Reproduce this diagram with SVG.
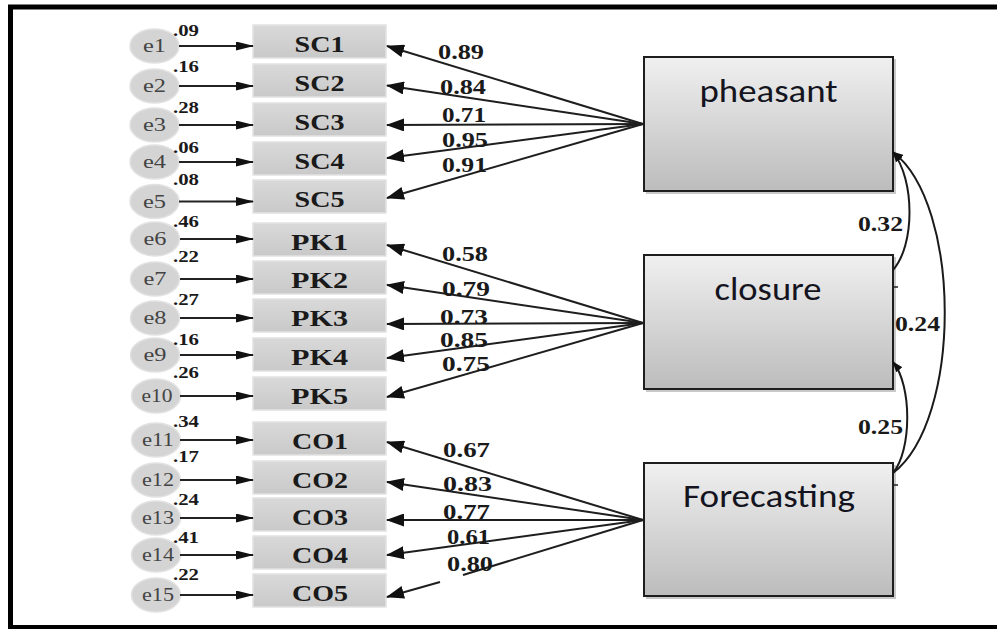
<svg xmlns="http://www.w3.org/2000/svg" width="997" height="629" viewBox="0 0 997 629">
  <defs>
    <linearGradient id="latentFill" x1="0" y1="0" x2="0" y2="1">
      <stop offset="0" stop-color="#f0f0f0"/>
      <stop offset="1" stop-color="#bcbcbc"/>
    </linearGradient>
    <linearGradient id="itemFill" x1="0" y1="0" x2="0" y2="1">
      <stop offset="0" stop-color="#d9d9d9"/>
      <stop offset="1" stop-color="#c9c9c9"/>
    </linearGradient>
    <!-- large head for factor loadings -->
    <marker id="loadHead" markerUnits="userSpaceOnUse" viewBox="0 0 18 13" markerWidth="18" markerHeight="13" refX="17" refY="6.5" orient="auto">
      <path d="M0,0 L18,6.5 L0,13 z" fill="#111"/>
    </marker>
    <!-- slender head for error terms -->
    <marker id="errHead" markerUnits="userSpaceOnUse" viewBox="0 0 18 9" markerWidth="18" markerHeight="9" refX="17" refY="4.5" orient="auto">
      <path d="M0,0 L18,4.5 L0,9 z" fill="#111"/>
    </marker>
    <!-- small head for covariance arcs -->
    <marker id="covHead" markerUnits="userSpaceOnUse" viewBox="0 0 11 8" markerWidth="11" markerHeight="8" refX="10" refY="4" orient="auto-start-reverse">
      <path d="M0,0 L11,4 L0,8 z" fill="#111"/>
    </marker>
    <style>
      .item rect { fill: url(#itemFill); stroke: #e2e2e2; stroke-width: 1.5; }
      .item text { font-family: "Liberation Serif", "Times New Roman", serif; font-weight: bold; font-size: 24px; fill: #1a1a1a; text-anchor: middle; }
      .err ellipse { fill: #d4d4d4; stroke: #e2e2e2; stroke-width: 1.5; }
      .err text { font-family: "Liberation Serif", "Times New Roman", serif; font-size: 19px; fill: #444; text-anchor: middle; }
      .latent .shade { fill: #9a9a9a; opacity: 0.55; }
      .latent .box { fill: url(#latentFill); stroke: #1e1e1e; stroke-width: 2; }
      .latent text { font-family: "Carlito", "Lato", "Liberation Sans", sans-serif; font-size: 32px; fill: #141420; text-anchor: middle; }
      .wt { font-family: "Liberation Serif", "Times New Roman", serif; font-weight: bold; font-size: 16px; fill: #1a1a1a; }
      .ld { font-family: "Liberation Serif", "Times New Roman", serif; font-weight: bold; font-size: 20px; fill: #1a1a1a; }
      .load { stroke: #1e1e1e; stroke-width: 2; fill: none; marker-end: url(#loadHead); }
      .earr { stroke: #222; stroke-width: 2; fill: none; marker-end: url(#errHead); }
      .cov { stroke: #1a1a1a; stroke-width: 2; fill: none; }
    </style>
  </defs>

  <rect width="997" height="629" fill="#ffffff"/>
  <!-- outer frame (open on the right) -->
  <path d="M1005,7 H10.5 V627.5 H1005" fill="none" stroke="#000" stroke-width="5"/>

  <!-- error terms -->
  <g id="e1" class="err"><ellipse cx="154.5" cy="46" rx="24.5" ry="17"/><text x="154.5" y="52" textLength="23" lengthAdjust="spacingAndGlyphs">e1</text></g>
  <g id="e2" class="err"><ellipse cx="154.5" cy="86" rx="24.5" ry="17"/><text x="154.5" y="92" textLength="23" lengthAdjust="spacingAndGlyphs">e2</text></g>
  <g id="e3" class="err"><ellipse cx="154.5" cy="125" rx="24.5" ry="17"/><text x="154.5" y="131" textLength="23" lengthAdjust="spacingAndGlyphs">e3</text></g>
  <g id="e4" class="err"><ellipse cx="154.5" cy="162" rx="24.5" ry="17"/><text x="154.5" y="168" textLength="23" lengthAdjust="spacingAndGlyphs">e4</text></g>
  <g id="e5" class="err"><ellipse cx="154.5" cy="201.5" rx="24.5" ry="17"/><text x="154.5" y="207.5" textLength="23" lengthAdjust="spacingAndGlyphs">e5</text></g>
  <g id="e6" class="err"><ellipse cx="155" cy="239" rx="24.5" ry="17"/><text x="155" y="245" textLength="23" lengthAdjust="spacingAndGlyphs">e6</text></g>
  <g id="e7" class="err"><ellipse cx="155" cy="279" rx="24.5" ry="17"/><text x="155" y="285" textLength="23" lengthAdjust="spacingAndGlyphs">e7</text></g>
  <g id="e8" class="err"><ellipse cx="155" cy="318" rx="24.5" ry="17"/><text x="155" y="324" textLength="23" lengthAdjust="spacingAndGlyphs">e8</text></g>
  <g id="e9" class="err"><ellipse cx="155" cy="355" rx="24.5" ry="17"/><text x="155" y="361" textLength="23" lengthAdjust="spacingAndGlyphs">e9</text></g>
  <g id="e10" class="err"><ellipse cx="156" cy="396" rx="24.5" ry="17"/><text x="157" y="402" textLength="31" lengthAdjust="spacingAndGlyphs">e10</text></g>
  <g id="e11" class="err"><ellipse cx="156" cy="440" rx="24.5" ry="17"/><text x="158" y="446" textLength="32" lengthAdjust="spacingAndGlyphs">e11</text></g>
  <g id="e12" class="err"><ellipse cx="156" cy="480" rx="24.5" ry="17"/><text x="158" y="486" textLength="32" lengthAdjust="spacingAndGlyphs">e12</text></g>
  <g id="e13" class="err"><ellipse cx="156" cy="518" rx="24.5" ry="17"/><text x="158" y="524" textLength="32" lengthAdjust="spacingAndGlyphs">e13</text></g>
  <g id="e14" class="err"><ellipse cx="156" cy="555" rx="24.5" ry="17"/><text x="158" y="561" textLength="32" lengthAdjust="spacingAndGlyphs">e14</text></g>
  <g id="e15" class="err"><ellipse cx="156" cy="595" rx="24.5" ry="17"/><text x="158" y="601" textLength="32" lengthAdjust="spacingAndGlyphs">e15</text></g>

  <!-- observed indicators -->
  <g id="SC1" class="item"><rect x="253" y="25" width="133" height="33"/><text x="319.5" y="52" textLength="50" lengthAdjust="spacingAndGlyphs">SC1</text></g>
  <g id="SC2" class="item"><rect x="253" y="64" width="133" height="33"/><text x="319.5" y="91" textLength="50" lengthAdjust="spacingAndGlyphs">SC2</text></g>
  <g id="SC3" class="item"><rect x="253" y="103" width="133" height="33"/><text x="319.5" y="130" textLength="50" lengthAdjust="spacingAndGlyphs">SC3</text></g>
  <g id="SC4" class="item"><rect x="253" y="142" width="133" height="33"/><text x="319.5" y="169" textLength="50" lengthAdjust="spacingAndGlyphs">SC4</text></g>
  <g id="SC5" class="item"><rect x="253" y="180" width="133" height="33"/><text x="319.5" y="207" textLength="50" lengthAdjust="spacingAndGlyphs">SC5</text></g>
  <g id="PK1" class="item"><rect x="253" y="223" width="133" height="33"/><text x="319.5" y="250" textLength="57" lengthAdjust="spacingAndGlyphs">PK1</text></g>
  <g id="PK2" class="item"><rect x="253" y="261" width="133" height="33"/><text x="319.5" y="288" textLength="57" lengthAdjust="spacingAndGlyphs">PK2</text></g>
  <g id="PK3" class="item"><rect x="253" y="299" width="133" height="33"/><text x="319.5" y="326" textLength="57" lengthAdjust="spacingAndGlyphs">PK3</text></g>
  <g id="PK4" class="item"><rect x="253" y="338" width="133" height="33"/><text x="319.5" y="365" textLength="57" lengthAdjust="spacingAndGlyphs">PK4</text></g>
  <g id="PK5" class="item"><rect x="253" y="377" width="133" height="33"/><text x="319.5" y="404" textLength="57" lengthAdjust="spacingAndGlyphs">PK5</text></g>
  <g id="CO1" class="item"><rect x="253" y="422" width="133" height="33"/><text x="320" y="449" textLength="56" lengthAdjust="spacingAndGlyphs">CO1</text></g>
  <g id="CO2" class="item"><rect x="253" y="461" width="133" height="33"/><text x="320" y="488" textLength="56" lengthAdjust="spacingAndGlyphs">CO2</text></g>
  <g id="CO3" class="item"><rect x="253" y="498" width="133" height="33"/><text x="320" y="525" textLength="56" lengthAdjust="spacingAndGlyphs">CO3</text></g>
  <g id="CO4" class="item"><rect x="253" y="536" width="133" height="33"/><text x="320" y="563" textLength="56" lengthAdjust="spacingAndGlyphs">CO4</text></g>
  <g id="CO5" class="item"><rect x="253" y="574" width="133" height="33"/><text x="320" y="601" textLength="56" lengthAdjust="spacingAndGlyphs">CO5</text></g>

  <!-- latent factors -->
  <g id="pheasant" class="latent">
    <rect class="shade" x="646" y="59" width="250" height="135"/>
    <rect class="box" x="644" y="57" width="249" height="134"/>
    <text x="768.5" y="102" textLength="138" lengthAdjust="spacingAndGlyphs">pheasant</text>
  </g>
  <g id="closure" class="latent">
    <rect class="shade" x="646" y="257" width="250" height="135"/>
    <rect class="box" x="644" y="255" width="249" height="134"/>
    <text x="768" y="300" textLength="107" lengthAdjust="spacingAndGlyphs">closure</text>
  </g>
  <g id="Forecasting" class="latent">
    <rect class="shade" x="646" y="465" width="250" height="134"/>
    <rect class="box" x="644" y="463" width="249" height="133"/>
    <text x="769" y="507" textLength="172" lengthAdjust="spacingAndGlyphs">Forecasting</text>
  </g>

  <!-- connectors -->
  <g id="connectors">
    <!-- error term paths -->
    <line class="earr" x1="179" y1="46" x2="253" y2="46"/>
    <line class="earr" x1="179" y1="86" x2="253" y2="86"/>
    <line class="earr" x1="179" y1="125" x2="253" y2="125"/>
    <line class="earr" x1="179" y1="162" x2="253" y2="162"/>
    <line class="earr" x1="179" y1="201.5" x2="253" y2="201.5"/>
    <line class="earr" x1="180" y1="239" x2="253" y2="239"/>
    <line class="earr" x1="180" y1="279" x2="253" y2="279"/>
    <line class="earr" x1="180" y1="318" x2="253" y2="318"/>
    <line class="earr" x1="180" y1="355" x2="253" y2="355"/>
    <line class="earr" x1="180" y1="396" x2="253" y2="396"/>
    <line class="earr" x1="180" y1="440" x2="253" y2="440"/>
    <line class="earr" x1="180" y1="480" x2="253" y2="480"/>
    <line class="earr" x1="180" y1="518" x2="253" y2="518"/>
    <line class="earr" x1="180" y1="555" x2="253" y2="555"/>
    <line class="earr" x1="180" y1="595" x2="253" y2="595"/>

    <!-- loadings: pheasant -->
    <line class="load" x1="643" y1="124" x2="387" y2="46"/>
    <line class="load" x1="643" y1="124" x2="387" y2="85.5"/>
    <line class="load" x1="643" y1="124" x2="387" y2="125"/>
    <line class="load" x1="643" y1="124" x2="387" y2="158"/>
    <line class="load" x1="643" y1="124" x2="387" y2="198"/>
    <!-- loadings: closure -->
    <line class="load" x1="643" y1="323" x2="387" y2="245"/>
    <line class="load" x1="643" y1="323" x2="387" y2="285"/>
    <line class="load" x1="643" y1="323" x2="387" y2="324"/>
    <line class="load" x1="643" y1="323" x2="387" y2="358"/>
    <line class="load" x1="643" y1="323" x2="387" y2="397"/>
    <!-- loadings: Forecasting -->
    <line class="load" x1="643" y1="520" x2="387" y2="442"/>
    <line class="load" x1="643" y1="520" x2="387" y2="482"/>
    <line class="load" x1="643" y1="520" x2="387" y2="520"/>
    <line class="load" x1="643" y1="520" x2="387" y2="555"/>
    <line x1="643" y1="520" x2="463" y2="575" stroke="#1e1e1e" stroke-width="2"/>
    <line class="load" x1="440" y1="582" x2="387" y2="597"/>

    <!-- covariances -->
    <path class="cov" d="M893,152 C915,180 915,245 893,270" marker-start="url(#covHead)"/>
    <path class="cov" d="M893,152 C962,205 962,420 893,473" marker-start="url(#covHead)"/>
    <path class="cov" d="M893,362 C912,385 912,450 893,473" marker-start="url(#covHead)"/>
    <line x1="893" y1="287" x2="898" y2="287" stroke="#222" stroke-width="1.5"/>
    <line x1="893" y1="485" x2="898" y2="485" stroke="#222" stroke-width="1.5"/>
  </g>

  <!-- error variances -->
  <g id="error-weights">
    <text class="wt" x="173" y="36" textLength="26" lengthAdjust="spacingAndGlyphs">.09</text>
    <text class="wt" x="173" y="72" textLength="26" lengthAdjust="spacingAndGlyphs">.16</text>
    <text class="wt" x="173" y="113" textLength="26" lengthAdjust="spacingAndGlyphs">.28</text>
    <text class="wt" x="173" y="153" textLength="26" lengthAdjust="spacingAndGlyphs">.06</text>
    <text class="wt" x="173" y="185" textLength="26" lengthAdjust="spacingAndGlyphs">.08</text>
    <text class="wt" x="173" y="227" textLength="26" lengthAdjust="spacingAndGlyphs">.46</text>
    <text class="wt" x="173" y="262" textLength="26" lengthAdjust="spacingAndGlyphs">.22</text>
    <text class="wt" x="173" y="305" textLength="26" lengthAdjust="spacingAndGlyphs">.27</text>
    <text class="wt" x="173" y="345" textLength="26" lengthAdjust="spacingAndGlyphs">.16</text>
    <text class="wt" x="173" y="378" textLength="26" lengthAdjust="spacingAndGlyphs">.26</text>
    <text class="wt" x="173" y="427" textLength="26" lengthAdjust="spacingAndGlyphs">.34</text>
    <text class="wt" x="173" y="462" textLength="26" lengthAdjust="spacingAndGlyphs">.17</text>
    <text class="wt" x="173" y="505" textLength="26" lengthAdjust="spacingAndGlyphs">.24</text>
    <text class="wt" x="173" y="543" textLength="26" lengthAdjust="spacingAndGlyphs">.41</text>
    <text class="wt" x="173" y="580" textLength="26" lengthAdjust="spacingAndGlyphs">.22</text>
  </g>

  <!-- standardized loadings and correlations -->
  <g id="loading-labels">
    <text class="ld" x="438" y="59" textLength="46" lengthAdjust="spacingAndGlyphs">0.89</text>
    <text class="ld" x="440" y="94" textLength="46" lengthAdjust="spacingAndGlyphs">0.84</text>
    <text class="ld" x="442" y="122" textLength="44" lengthAdjust="spacingAndGlyphs">0.71</text>
    <text class="ld" x="442" y="147" textLength="46" lengthAdjust="spacingAndGlyphs">0.95</text>
    <text class="ld" x="442" y="172" textLength="45" lengthAdjust="spacingAndGlyphs">0.91</text>
    <text class="ld" x="442" y="261" textLength="46" lengthAdjust="spacingAndGlyphs">0.58</text>
    <text class="ld" x="442" y="296" textLength="48" lengthAdjust="spacingAndGlyphs">0.79</text>
    <text class="ld" x="440" y="324" textLength="48" lengthAdjust="spacingAndGlyphs">0.73</text>
    <text class="ld" x="440" y="347" textLength="48" lengthAdjust="spacingAndGlyphs">0.85</text>
    <text class="ld" x="442" y="371" textLength="48" lengthAdjust="spacingAndGlyphs">0.75</text>
    <text class="ld" x="443" y="457" textLength="47" lengthAdjust="spacingAndGlyphs">0.67</text>
    <text class="ld" x="443" y="491" textLength="49" lengthAdjust="spacingAndGlyphs">0.83</text>
    <text class="ld" x="443" y="519" textLength="47" lengthAdjust="spacingAndGlyphs">0.77</text>
    <text class="ld" x="447" y="544" textLength="43" lengthAdjust="spacingAndGlyphs">0.61</text>
    <text class="ld" x="447" y="571" textLength="46" lengthAdjust="spacingAndGlyphs">0.80</text>
    <text class="ld" x="858" y="231" textLength="45" lengthAdjust="spacingAndGlyphs">0.32</text>
    <text class="ld" x="895" y="331" textLength="45" lengthAdjust="spacingAndGlyphs">0.24</text>
    <text class="ld" x="858" y="434" textLength="45" lengthAdjust="spacingAndGlyphs">0.25</text>
  </g>
</svg>
